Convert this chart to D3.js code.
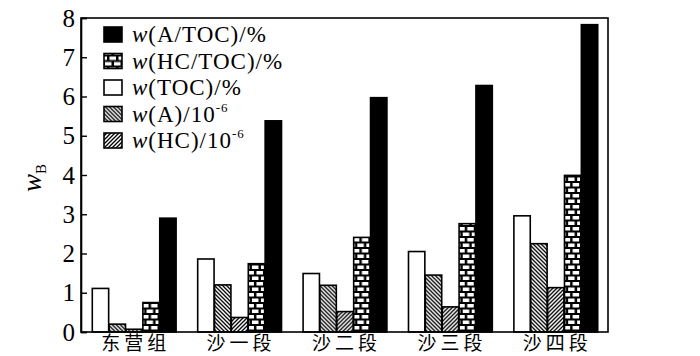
<!DOCTYPE html>
<html>
<head>
<meta charset="utf-8">
<script src="https://cdn.jsdelivr.net/npm/d3@7"></script>
<style>
  body { margin: 0; background: #fff; }
  svg { display: block; }
  .tick text { font-family: "Liberation Serif", "DejaVu Serif", serif; font-size: 25px; fill: #000; }
  .leg text { font-family: "Liberation Serif", serif; font-size: 23px; }
  .cat { font-family: "Noto Sans CJK SC", sans-serif; font-size: 19px; letter-spacing: 4px; }
</style>
</head>
<body>
<svg width="700" height="356"></svg>
<script>
const categories = ['东营组', '沙一段', '沙二段', '沙三段', '沙四段'];
const seriesKeys = ['TOC', 'A', 'HC', 'HCTOC', 'ATOC'];
const toc   = [1.11, 1.86, 1.49, 2.05, 2.96];
const a     = [0.20, 1.20, 1.19, 1.45, 2.25];
const hc    = [0.07, 0.37, 0.52, 0.64, 1.13];
const hcToc = [0.75, 1.74, 2.41, 2.76, 3.99];
const aToc  = [2.90, 5.38, 5.97, 6.28, 7.83];
const yTicks = [0, 1, 2, 3, 4, 5, 6, 7, 8];

const values = {TOC: toc, A: a, HC: hc, HCTOC: hcToc, ATOC: aToc};
const fills = {TOC: '#fff', A: 'url(#hatchA)', HC: 'url(#hatchHC)', HCTOC: 'url(#brick)', ATOC: '#000'};

const svg = d3.select('svg');
const mLeft = 81, mRight = 608, mTop = 18, mBottom = 332;

// patterns
const defs = svg.append('defs');
const pA = defs.append('pattern').attr('id', 'hatchA')
    .attr('patternUnits', 'userSpaceOnUse').attr('width', 4).attr('height', 4);
pA.append('rect').attr('width', 4).attr('height', 4).attr('fill', '#fff');
pA.append('path').attr('d', 'M-1,-1 L5,5 M-1,3 L1,5 M3,-1 L5,1')
    .attr('stroke', '#000').attr('stroke-width', 1.3);

const pH = defs.append('pattern').attr('id', 'hatchHC')
    .attr('patternUnits', 'userSpaceOnUse').attr('width', 4).attr('height', 4);
pH.append('rect').attr('width', 4).attr('height', 4).attr('fill', '#fff');
pH.append('path').attr('d', 'M-1,5 L5,-1 M-1,1 L1,-1 M3,5 L5,3')
    .attr('stroke', '#000').attr('stroke-width', 1.3);

const pB = defs.append('pattern').attr('id', 'brick')
    .attr('patternUnits', 'userSpaceOnUse').attr('width', 9).attr('height', 11);
pB.append('rect').attr('width', 9).attr('height', 11).attr('fill', '#000');
pB.append('rect').attr('x', 1).attr('y', 1.5).attr('width', 6.5).attr('height', 3.5).attr('fill', '#fff');
pB.append('rect').attr('x', -3.5).attr('y', 7).attr('width', 6.5).attr('height', 3.5).attr('fill', '#fff');
pB.append('rect').attr('x', 5.5).attr('y', 7).attr('width', 6.5).attr('height', 3.5).attr('fill', '#fff');

const x0 = d3.scaleBand().domain(categories).range([mLeft, mRight])
    .paddingInner(0.2).paddingOuter(0.1);
const x1 = d3.scaleBand().domain(seriesKeys).range([0, x0.bandwidth()]);
const y = d3.scaleLinear().domain([0, 8]).range([mBottom, mTop]);

// bars
const groups = svg.append('g').selectAll('g')
    .data(categories).enter().append('g')
    .attr('transform', d => `translate(${x0(d)},0)`);

groups.selectAll('rect')
    .data((d, i) => seriesKeys.map(k => ({key: k, v: values[k][i]})))
    .enter().append('rect')
    .attr('x', d => x1(d.key) + 0.75)
    .attr('width', x1.bandwidth() - 0.5)
    .attr('y', d => y(d.v))
    .attr('height', d => y(0) - y(d.v))
    .attr('fill', d => fills[d.key])
    .attr('stroke', '#000')
    .attr('stroke-width', 1.6);

// frame
svg.append('rect')
    .attr('x', mLeft).attr('y', mTop)
    .attr('width', mRight - mLeft).attr('height', mBottom - mTop)
    .attr('fill', 'none').attr('stroke', '#000').attr('stroke-width', 1.6);

// y axis
const yAxis = svg.append('g')
    .attr('transform', `translate(${mLeft},0)`)
    .call(d3.axisLeft(y).tickValues(yTicks).tickSize(-6).tickPadding(6));
yAxis.select('.domain').attr('stroke-width', 1.6);
yAxis.selectAll('.tick line').attr('stroke-width', 1.4);

// y label
const yl = svg.append('text')
    .attr('transform', 'translate(41,178) rotate(-90)')
    .attr('text-anchor', 'middle')
    .style('font-family', '"Liberation Serif", serif')
    .style('font-size', '27px');
yl.append('tspan').attr('font-style', 'italic').text('w');
yl.append('tspan').attr('font-size', '15px').attr('dy', 5).text('B');

// category labels
svg.append('g').selectAll('text')
    .data(categories).enter().append('text')
    .attr('class', 'cat')
    .attr('x', d => x0(d) + x0.bandwidth() / 2 + 2)
    .attr('y', 350)
    .attr('text-anchor', 'middle')
    .text(d => d);

// legend
const legendItems = [
  {key: 'ATOC', label: '(A/TOC)/%'},
  {key: 'HCTOC', label: '(HC/TOC)/%'},
  {key: 'TOC', label: '(TOC)/%'},
  {key: 'A', label: '(A)/10', sup: '-6'},
  {key: 'HC', label: '(HC)/10', sup: '-6'}
];
const leg = svg.append('g').attr('class', 'leg');
const row = leg.selectAll('g').data(legendItems).enter().append('g')
    .attr('transform', (d, i) => `translate(104,${34 + i * 26.5})`);
row.append('rect')
    .attr('x', 0).attr('y', -7).attr('width', 18).attr('height', 15)
    .attr('fill', d => fills[d.key])
    .attr('stroke', '#000').attr('stroke-width', 1.6);
const lt = row.append('text').attr('x', 28).attr('y', 8).style('letter-spacing', '1px');
lt.append('tspan').attr('font-style', 'italic').text('w');
lt.append('tspan').text(d => d.label);
lt.filter(d => d.sup).append('tspan')
    .attr('font-size', '13px').attr('dy', -10).text(d => d.sup);
</script>
</body>
</html>
